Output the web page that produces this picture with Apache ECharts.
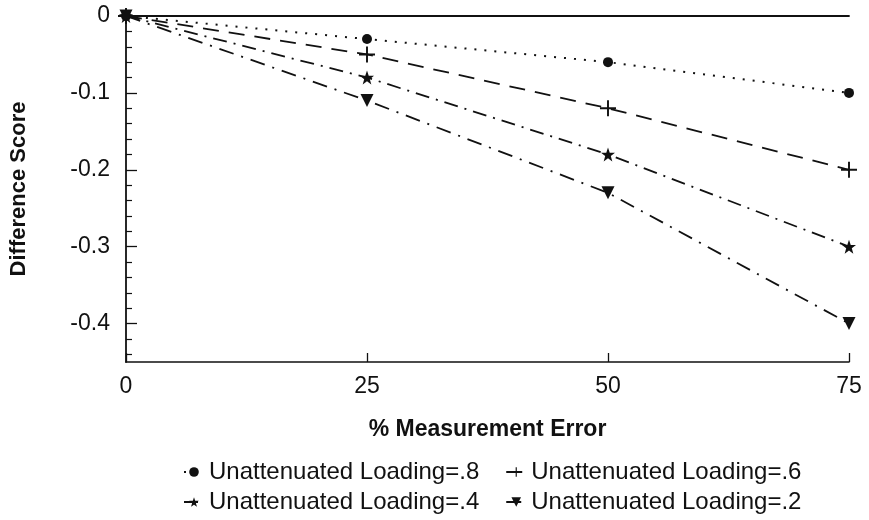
<!DOCTYPE html>
<html><head><meta charset="utf-8">
<script src="https://cdn.jsdelivr.net/npm/echarts@6/dist/echarts.min.js"></script>
<style>html,body{margin:0;padding:0;background:#fff}#c{width:869px;height:520px}</style>
</head><body><div id="c"></div>
<script>
// ---- data ----
const xValues = [0, 25, 50, 75];
const load08 = [0, -0.03, -0.06, -0.10];
const load06 = [0, -0.05, -0.12, -0.20];
const load04 = [0, -0.08, -0.18, -0.30];
const load02 = [0, -0.11, -0.23, -0.40];
const seriesNames = ['Unattenuated Loading=.8', 'Unattenuated Loading=.6', 'Unattenuated Loading=.4', 'Unattenuated Loading=.2'];
const xTickLabels = [0, 25, 50, 75];
const yTickLabels = [0, -0.1, -0.2, -0.3, -0.4];
const yMinorTicks = [-0.02, -0.04, -0.06, -0.08, -0.12, -0.14, -0.16, -0.18, -0.22, -0.24, -0.26, -0.28,
                     -0.32, -0.34, -0.36, -0.38, -0.42, -0.44];

// ---- styles ----
const FONT = '"Liberation Sans", Arial, Helvetica, sans-serif';
const INK = '#111';
const PLUS = 'path://M4.4,0h1.2v10h-1.2z M0,4.4h10v1.2h-10z';
const STAR = 'path://M10,0 L12.35,6.76 L19.51,6.91 L13.8,11.24 L15.88,18.09 L10,14 L4.12,18.09 L6.2,11.24 L0.49,6.91 L7.65,6.76 Z';
const TRI = 'path://M0,0 L10,0 L5,10 Z';

const pts = arr => xValues.map((x, i) => [x, arr[i]]);

function mk(name, arr, symbol, size, dash, w) {
  return {
    name, type: 'line', data: pts(arr),
    symbol, symbolSize: size, showSymbol: true,
    lineStyle: { color: INK, width: w, type: dash },
    itemStyle: { color: INK },
    emphasis: { disabled: true },
    animation: false
  };
}

const chart = echarts.init(document.getElementById('c'), null, { renderer: 'canvas' });
chart.setOption({
  backgroundColor: '#fff',
  animation: false,
  textStyle: { fontFamily: FONT, color: INK },
  grid: { left: 124, right: 20, top: 16, bottom: 158 },
  xAxis: [{
    type: 'value', min: 0, max: 75, interval: 25, position: 'bottom',
    axisLine: { show: true, onZero: false, lineStyle: { color: INK, width: 1.6 } },
    axisTick: { show: true, inside: true, length: 9, lineStyle: { color: INK, width: 1.3 } },
    axisLabel: { color: INK, fontSize: 23, fontFamily: FONT, margin: 13,
      formatter: v => xTickLabels.includes(v) ? String(v) : '' },
    splitLine: { show: false },
    name: '% Measurement Error', nameLocation: 'middle', nameGap: 56,
    nameTextStyle: { fontSize: 23, fontWeight: 'bold', color: INK, fontFamily: FONT }
  }, {
    type: 'value', min: 0, max: 75, position: 'top',
    axisLine: { show: true, onZero: false, lineStyle: { color: INK, width: 1.8 } },
    axisTick: { show: false }, axisLabel: { show: false }, splitLine: { show: false }
  }],
  yAxis: [{
    type: 'value', min: -0.45, max: 0, position: 'left',
    axisLine: { show: true, onZero: false, lineStyle: { color: INK, width: 1.8 } },
    axisTick: { show: true, inside: true, length: 11, customValues: yTickLabels, lineStyle: { color: INK, width: 1.3 } },
    axisLabel: { color: INK, fontSize: 23, fontFamily: FONT, margin: 16, customValues: yTickLabels,
      formatter: v => (Math.abs(v) < 1e-9 ? '0' : String(+v.toFixed(2))) },
    splitLine: { show: false },
    name: 'Difference Score', nameLocation: 'middle', nameGap: 96, nameRotate: 90,
    nameTextStyle: { fontSize: 22, fontWeight: 'bold', color: INK, fontFamily: FONT }
  }, {
    type: 'value', min: -0.45, max: 0, position: 'left',
    axisLine: { show: false },
    axisTick: { show: true, inside: true, length: 6, customValues: yMinorTicks, lineStyle: { color: INK, width: 1.2 } },
    axisLabel: { show: false }, splitLine: { show: false }
  }],
  legend: [{
    data: [seriesNames[0], seriesNames[1]],
    left: 178, top: 455, itemWidth: 20, itemHeight: 12, itemGap: 26,
    textStyle: { fontSize: 24, color: INK, fontFamily: FONT },
    selectedMode: false
  }, {
    data: [seriesNames[2], seriesNames[3]],
    left: 178, top: 485, itemWidth: 20, itemHeight: 12, itemGap: 26,
    textStyle: { fontSize: 24, color: INK, fontFamily: FONT },
    selectedMode: false
  }],
  series: [
    mk(seriesNames[0], load08, 'circle', 10, [2, 8], 2),
    mk(seriesNames[1], load06, PLUS, 16, [16, 10], 1.8),
    mk(seriesNames[2], load04, STAR, 14, [14, 7, 2, 7], 1.8),
    mk(seriesNames[3], load02, TRI, 13, [15, 8, 2, 8], 1.8)
  ]
});
</script></body></html>
